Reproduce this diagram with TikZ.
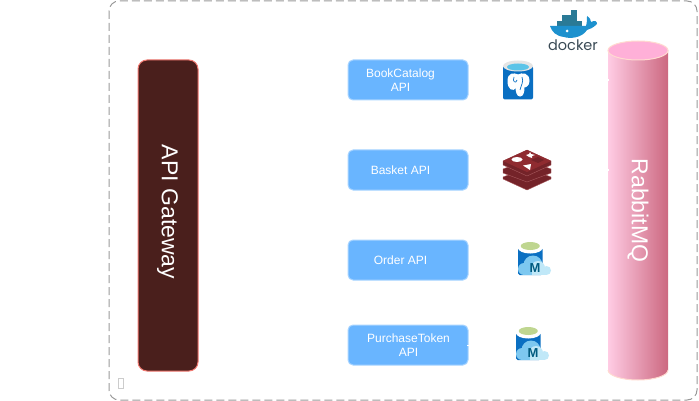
\documentclass[tikz,border=0pt]{standalone}
\usepackage{fontspec}
\setmainfont{Liberation Sans}
\newfontfamily\dockerfont{Poppins}

\definecolor{framegray}{HTML}{999999}
\definecolor{gatewayfill}{HTML}{4A1F1C}
\definecolor{gatewayline}{HTML}{F07870}
\definecolor{apiblue}{HTML}{69B5FF}
\definecolor{apiline}{HTML}{A8D4FF}
\definecolor{mqtop}{HTML}{FFB0D8}
\definecolor{mqline}{HTML}{FFDAD0}
\definecolor{mqleft}{HTML}{FFCCE4}
\definecolor{mqmid}{HTML}{FFA8C0}
\definecolor{mqright}{HTML}{CC6880}
\definecolor{pgblue}{HTML}{0A6FC2}
\definecolor{pgcap}{HTML}{5CC4E8}
\definecolor{redistop}{HTML}{8F2B30}
\definecolor{redisside}{HTML}{742329}
\definecolor{redisedge}{HTML}{A85A5E}
\definecolor{whaleblue}{HTML}{1D91CE}
\definecolor{boxteal}{HTML}{2A7A96}
\definecolor{dockergray}{HTML}{3A4A55}
\definecolor{cloudmid}{HTML}{7DC8F0}
\definecolor{cloudlight}{HTML}{C0E8F8}
\definecolor{mdbgreen}{HTML}{BFD690}
\definecolor{mdbletter}{HTML}{005B80}

\tikzset{
  every picture/.style={line width=1pt},
  apibox/.style={draw=apiline,fill=apiblue,rounded corners=5pt,minimum width=120pt,minimum height=40pt,inner sep=0pt},
  apilabel/.style={text=white,font=\fontsize{12}{14}\selectfont,align=center,inner sep=0pt},
  biglabel/.style={text=white,font=\fontsize{23}{26}\selectfont,rotate=-90,inner sep=0pt},
  redislayer/.style={fill=redisside,draw=redisedge,line width=0.4pt},
  mdbicon/.pic={
    \fill[pgblue,rounded corners=1.5pt] (0,6) rectangle (24.5,33);
    \fill[white] (12.25,6) ellipse (12.25 and 5.5);
    \fill[mdbgreen] (12.25,4) ellipse (9.5 and 4);
    \begin{scope}
      \clip (-1,12) rectangle (34,33);
      \fill[cloudmid] (6,27) circle (6);
      \fill[cloudmid] (15,23) circle (9.5);
      \fill[cloudmid] (6,27) rectangle (20,33);
      \fill[cloudlight] (20,26) circle (7);
      \fill[cloudlight] (28.5,28.5) circle (4.5);
      \fill[cloudlight] (14,29) rectangle (28,33);
    \end{scope}
    \node[text=mdbletter,font=\bfseries\fontsize{13}{14}\selectfont,inner sep=0pt] at (17,26.5) {M};
  }
}

\begin{document}
\begin{tikzpicture}[x=1pt,y=-1pt]
\useasboundingbox (0,0) rectangle (699,401);
\draw[framegray,dash pattern=on 8pt off 4pt,rounded corners=10pt] (109,1) rectangle (697,400);
\draw[gray!40,line width=0.6pt] (118.5,378.5) rectangle (123,388.5);

% gateway
\node[draw=gatewayline,fill=gatewayfill,rounded corners=9pt,minimum width=60pt,minimum height=311pt,inner sep=0pt] (gateway) at (168,215.5) {};
\node[biglabel] (gatewaytext) at (167.5,212) {API Gateway};

% services
\node[apibox] (catalog) at (408,80) {};
\node[apilabel] (catalogtext) at (400.5,80) {BookCatalog\\API};
\node[apibox] (basket) at (408,170) {};
\node[apilabel] (baskettext) at (400.5,170) {Basket API};
\node[apibox] (order) at (408,260) {};
\node[apilabel] (ordertext) at (400.5,260) {Order API};
\node[apibox] (purchase) at (408,345) {};
\node[apilabel] (purchasetext) at (408.5,345) {PurchaseToken\\API};
\fill[white] (467,344.5) rectangle (469,346);

% rabbitmq
\path[left color=mqleft,middle color=mqmid,right color=mqright]
  (608,50) -- (608,370) arc (180:0:30 and 10) -- (668,50) -- cycle;
\draw[mqline] (608,370) arc (180:0:30 and 10);
\filldraw[fill=mqtop,draw=mqline] (638,50.5) ellipse (30 and 9.5);
\fill[white] (608,79.5) rectangle (609,81);
\fill[white] (608,169.5) rectangle (609,171);
\node[biglabel] (mqtext) at (638,210.5) {RabbitMQ};

% postgres
\fill[pgblue,rounded corners=2pt] (503,66) rectangle (533,99.5);
\fill[gray!20] (518,66) ellipse (15 and 5.5);
\fill[pgcap] (518,67) ellipse (11 and 3.5);
\filldraw[fill=white,draw=white] (508,81) .. controls (508,73) and (514,73) .. (518,75) .. controls (522,73) and (529,73) .. (529,81) .. controls (529,86) and (525,87) .. (524,87) .. controls (524,92) and (523,96) .. (520,96) .. controls (517,96) and (516,91) .. (516,87) .. controls (513,92) and (508,89) .. (508,81) -- cycle;
\draw[pgblue,line width=0.7pt] (514,77) .. controls (512,82) and (516,84) .. (517,80) (522,77) .. controls (524,82) and (521,85) .. (520,90);

% redis
\filldraw[redislayer] (503,177) -- (503,179) -- (527,190) -- (551,179) -- (551,177) -- (527,168) -- cycle;
\filldraw[redislayer] (503,169) -- (503,173) -- (527,182) -- (551,173) -- (551,169) -- (527,160) -- cycle;
\filldraw[redislayer] (503,161) -- (503,165) -- (527,176) -- (551,165) -- (551,161) -- (527,150) -- cycle;
\fill[redistop] (503,161) -- (527,150) -- (551,161) -- (527,172) -- cycle;
\fill[white] (517,159.5) ellipse (5.5 and 2.5);
\fill[white] (523,165.5) -- (531,164) -- (530,170) -- cycle;
\fill[white] (526,155) -- (529,154) -- (530,152) -- (531,154) -- (535,155) -- (532,156) -- (532,158) -- (529,157) -- cycle;
\fill[redisside] (531,160) -- (538,157) -- (544,160) -- (538,163) -- cycle;

% docker
\fill[boxteal] (571,10) rectangle (577,15);
\fill[boxteal] (562,15) rectangle (577,21);
\fill[boxteal] (557,21) rectangle (582,26);
\fill[whaleblue] (550,26) -- (586,26) .. controls (587,23) and (587,19) .. (587,16) .. controls (590,18) and (591,20) .. (591,22) .. controls (595,20) and (597,21) .. (597,24) .. controls (593,28) and (590,29) .. (587,30) .. controls (582,38) and (570,39) .. (564,37) .. controls (556,36) and (552,32) .. (550,26) -- cycle;
\fill[white] (567,31) circle (1.5);
\node[text=dockergray,font=\dockerfont\fontsize{14.5}{16}\selectfont,inner sep=0pt] (dockertext) at (573,45) {docker};

% managed db icons
\pic at (518,242) {mdbicon};
\pic at (516,327) {mdbicon};
\end{tikzpicture}
\end{document}
